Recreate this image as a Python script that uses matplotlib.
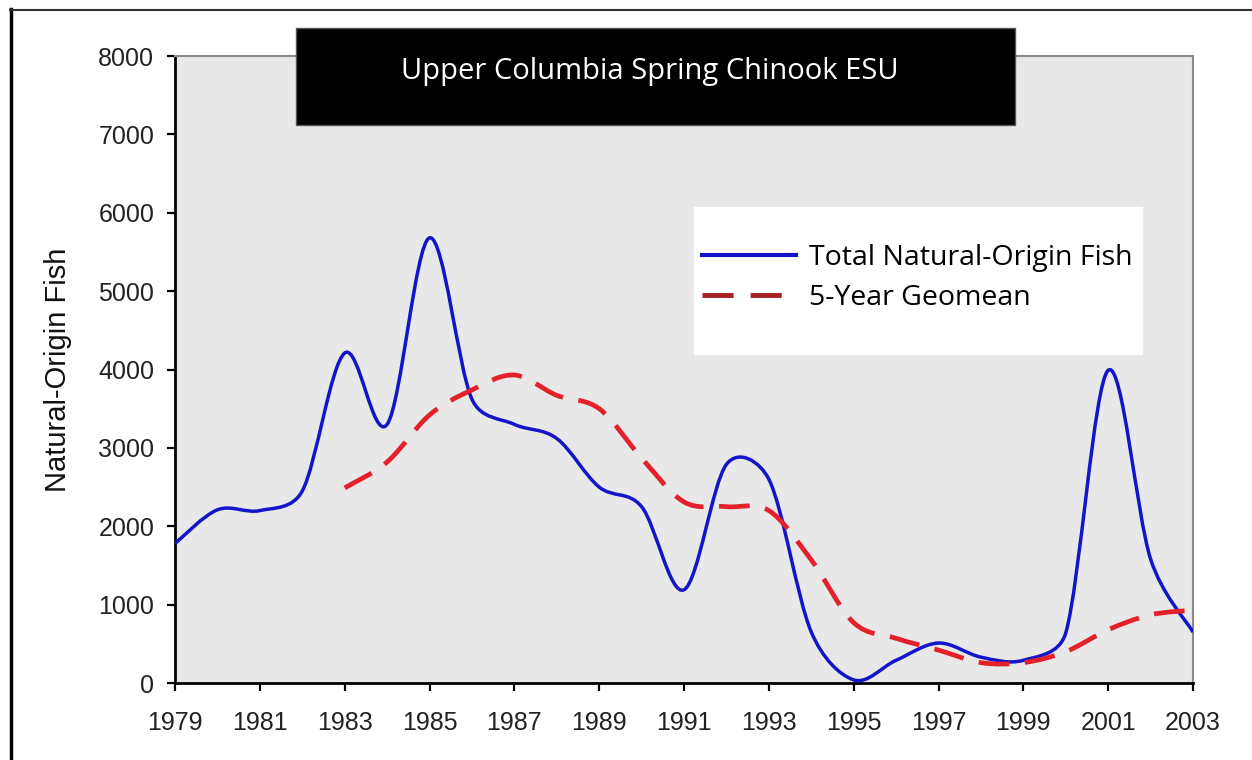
import numpy as np
import matplotlib.pyplot as plt
from matplotlib.path import Path
from matplotlib.patches import PathPatch, Rectangle
from matplotlib.lines import Line2D

# Yearly counts of natural-origin spring Chinook
years = list(range(1979, 2004))
natural_origin = [1780, 2210, 2200, 2450, 4210, 3300, 5680, 3620, 3300, 3120,
                  2500, 2250, 1190, 2790, 2600, 650, 40, 290, 510, 330,
                  290, 640, 3990, 1580, 650]

# 5-year geometric mean, starts once five years are available
geomean_years = list(range(1983, 2004))
geomean = [2490, 2820, 3420, 3740, 3930, 3670, 3500, 2870, 2310, 2250,
           2200, 1570, 770, 570, 420, 260, 260, 400, 680, 870, 930]

x_ticks = list(range(1979, 2004, 2))
y_ticks = list(range(0, 8001, 1000))

title = 'Upper Columbia Spring Chinook ESU'
label_total = 'Total Natural-Origin Fish'
label_geo = '5-Year Geomean'

# rough pixels per unit, used only to keep the curve handles in proportion
PX_PER_YEAR = 42.4
PX_PER_FISH = 0.0784


def smooth_path(x, y, cap=0.45):
    # smoothed line like a spreadsheet chart: one cubic Bezier per segment,
    # handles shortened where they would overshoot a short segment
    pts = np.column_stack([x, y]).astype(float)
    scale = np.array([PX_PER_YEAR, PX_PER_FISH])
    n = len(pts)

    def handle(t, seg):
        t_len = np.hypot(*(t * scale))
        s_len = np.hypot(*(seg * scale))
        if t_len > cap * s_len:
            t = t * cap * s_len / t_len
        return t

    verts = [pts[0]]
    codes = [Path.MOVETO]
    for i in range(n - 1):
        p0 = pts[max(i - 1, 0)]
        p1 = pts[i]
        p2 = pts[i + 1]
        p3 = pts[min(i + 2, n - 1)]
        seg = p2 - p1
        c1 = p1 + handle((p2 - p0) / 6, seg)
        c2 = p2 - handle((p3 - p1) / 6, seg)
        verts += [c1, c2, p2]
        codes += [Path.CURVE4] * 3
    return Path(verts, codes)


fig = plt.figure(figsize=(12.52, 7.6), dpi=100)
ax = fig.add_axes([0.1398, 0.1013, 0.8131, 0.825])
ax.set_facecolor('#e8e8e8')

blue = PathPatch(smooth_path(years, natural_origin), fill=False,
                 edgecolor='#1414c8', linewidth=2.5, zorder=3)
red = PathPatch(smooth_path(geomean_years, geomean), fill=False,
                edgecolor='#e4202a', linewidth=3.4, linestyle=(0, (6.5, 3.3)),
                capstyle='butt', zorder=4)
ax.add_patch(blue)
ax.add_patch(red)

ax.set_xlim(1979, 2003)
ax.set_ylim(0, 8000)
ax.set_xticks(x_ticks)
ax.set_yticks(y_ticks)
ax.tick_params(direction='out', length=6, width=1.6, labelsize=18,
               labelcolor='#222222')
ax.tick_params(axis='x', pad=14)
ax.tick_params(axis='y', pad=9)
for lab in ax.get_xticklabels() + ax.get_yticklabels():
    lab.set_fontfamily('Liberation Sans')

ax.spines['left'].set_linewidth(2)
ax.spines['bottom'].set_linewidth(2)
ax.spines['top'].set_color('#8a8a8a')
ax.spines['right'].set_color('#8a8a8a')
ax.spines['top'].set_linewidth(1.5)
ax.spines['right'].set_linewidth(1.5)

ax.set_ylabel('Natural-Origin Fish', fontsize=21, family='Liberation Sans',
              color='#111111')
ax.yaxis.set_label_coords(-0.101, 0.5)

# white legend panel
ax.add_patch(Rectangle((694 / 1252, 1 - 355 / 760), 449 / 1252, 148 / 760,
                       transform=fig.transFigure, facecolor='white',
                       edgecolor='none', zorder=5))
handles = [Line2D([], [], color='#1414c8', linewidth=3),
           Line2D([], [], color='#a82020', linewidth=3.5,
                  linestyle=(0, (6.4, 3.5)))]
leg = ax.legend(handles, [label_total, label_geo], loc='upper left',
                bbox_to_anchor=(702 / 1252, 1 - 244 / 760),
                bbox_transform=fig.transFigure, frameon=False,
                prop={'family': 'Open Sans', 'size': 20.5},
                handlelength=3.3, handletextpad=0.45, labelspacing=0.42,
                borderaxespad=0, borderpad=0)
leg.set_zorder(6)

# black title banner
fig.add_artist(Rectangle((296 / 1252, 1 - 125 / 760), 719 / 1252, 97 / 760,
                         transform=fig.transFigure, facecolor='black',
                         edgecolor='#555555', linewidth=1))
fig.text(650 / 1252, 1 - 71 / 760, title, color='white', fontsize=21,
         family='Open Sans', ha='center', va='center')

# outer frame lines
fig.add_artist(Line2D([11 / 1252, 11 / 1252], [0, 1 - 9 / 760],
                      color='black', linewidth=2.5))
fig.add_artist(Line2D([10 / 1252, 1], [1 - 10 / 760, 1 - 10 / 760],
                      color='#333333', linewidth=1.5))

fig.savefig('out.png', dpi=100)
